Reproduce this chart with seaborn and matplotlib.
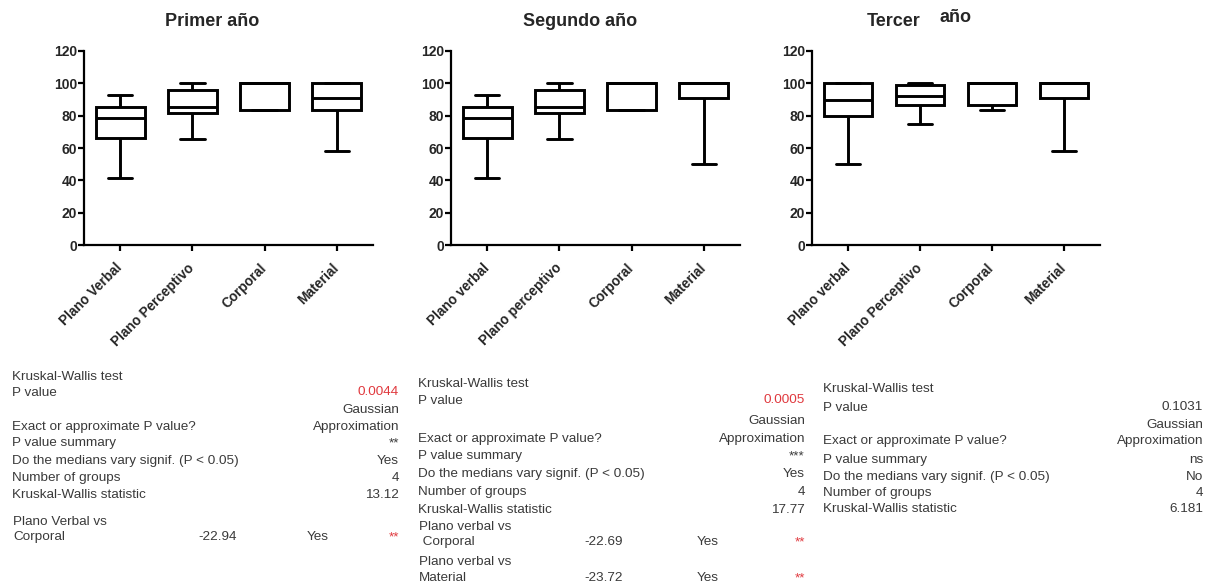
import matplotlib
matplotlib.use("Agg")
import matplotlib.pyplot as plt
import numpy as np
import pandas as pd
import seaborn as sns

# ---- box summaries (min, Q1, median, Q3, max) per group ----
labels_1 = ["Plano Verbal", "Plano Perceptivo", "Corporal", "Material"]
p1_min = [41.7, 65.5, 83.3, 58.3]
p1_q1 = [66.0, 81.7, 83.3, 83.3]
p1_med = [78.6, 85.4, 100.0, 91.2]
p1_q3 = [85.4, 96.0, 100.0, 100.0]
p1_max = [92.6, 100.0, 100.0, 100.0]

labels_2 = ["Plano verbal", "Plano perceptivo", "Corporal", "Material"]
p2_min = [41.7, 65.5, 83.3, 50.0]
p2_q1 = [66.0, 81.7, 83.3, 91.2]
p2_med = [78.6, 85.4, 100.0, 100.0]
p2_q3 = [85.4, 96.0, 100.0, 100.0]
p2_max = [92.6, 100.0, 100.0, 100.0]

labels_3 = ["Plano verbal", "Plano Perceptivo", "Corporal", "Material"]
p3_min = [50.0, 74.7, 83.4, 58.3]
p3_q1 = [80.0, 86.9, 86.9, 91.0]
p3_med = [89.5, 92.0, 100.0, 100.0]
p3_q3 = [100.0, 98.8, 100.0, 100.0]
p3_max = [100.0, 100.0, 100.0, 100.0]

titles = ["Primer año", "Segundo año", "Tercer año"]
y_ticks = [0, 20, 40, 60, 80, 100, 120]

# ---- Kruskal-Wallis summaries ----
stat_rows = ["Kruskal-Wallis test", "P value", "Exact or approximate P value?",
             "P value summary", "Do the medians vary signif. (P < 0.05)",
             "Number of groups", "Kruskal-Wallis statistic"]
p_values = ["0.0044", "0.0005", "0.1031"]
p_method = ["Gaussian", "Approximation"]
p_summary = ["**", "***", "ns"]
medians_vary = ["Yes", "Yes", "No"]
n_groups = ["4", "4", "4"]
kw_statistic = ["13.12", "17.77", "6.181"]

# Dunn's comparisons: (first line, second line, mean rank diff, significant, summary)
comparisons_1 = [("Plano Verbal vs", "Corporal", "-22.94", "Yes", "**")]
comparisons_2 = [("Plano verbal vs", " Corporal", "-22.69", "Yes", "**"),
                 ("Plano verbal vs", "Material", "-23.72", "Yes", "**")]
comparisons_3 = []


def long_frame(labels, mins, q1s, meds, q3s, maxs):
    rows = []
    for lab, a, b, c, d, e in zip(labels, mins, q1s, meds, q3s, maxs):
        for v in (a, b, c, d, e):
            rows.append({"grupo": lab, "valor": v})
    return pd.DataFrame(rows)


frames = [
    long_frame(labels_1, p1_min, p1_q1, p1_med, p1_q3, p1_max),
    long_frame(labels_2, p2_min, p2_q1, p2_med, p2_q3, p2_max),
    long_frame(labels_3, p3_min, p3_q1, p3_med, p3_q3, p3_max),
]
label_sets = [labels_1, labels_2, labels_3]

sns.set_style("ticks")
plt.rcParams["font.family"] = ["Liberation Sans", "DejaVu Sans"]

W, H = 1214, 588
fig = plt.figure(figsize=(W / 100, H / 100), dpi=100)


def fx(x):
    return x / W


def fy(y):
    return 1 - y / H


axes_px = [(84, 373), (451, 740), (812, 1100)]
ax_top, ax_bottom = 51, 245

for i, (df, labs) in enumerate(zip(frames, label_sets)):
    l, r = axes_px[i]
    ax = fig.add_axes([fx(l), fy(ax_bottom), fx(r - l), (ax_bottom - ax_top) / H])
    sns.boxplot(data=df, x="grupo", y="valor", order=labs, whis=(0, 100),
                color="white", linecolor="black", linewidth=2.1, width=0.68,
                ax=ax)
    ax.set_xlim(-0.5, 3.5)
    ax.set_ylim(0, 120)
    ax.set_yticks(y_ticks)
    ax.set_xlabel("")
    ax.set_ylabel("")
    for side in ("top", "right"):
        ax.spines[side].set_visible(False)
    for side in ("left", "bottom"):
        ax.spines[side].set_linewidth(1.6)
        ax.spines[side].set_color("black")
    ax.tick_params(axis="both", direction="out", width=1.6, length=4,
                   color="black")
    ax.tick_params(axis="y", labelsize=10, pad=1)
    for t in ax.get_yticklabels():
        t.set_fontweight("bold")
    ax.set_xticks(range(len(labs)))
    ax.set_xticklabels(labs, rotation=45, ha="right", va="center",
                       rotation_mode="anchor", fontsize=9.8, fontweight="bold")
    ax.tick_params(axis="x", pad=11)

# titles
fig.text(fx(212), fy(22), titles[0], ha="center", va="center",
         fontsize=13, fontweight="bold")
fig.text(fx(580), fy(21), titles[1], ha="center", va="center",
         fontsize=13, fontweight="bold")
t3a, t3b = titles[2].split(" ")
fig.text(fx(894), fy(22), t3a, ha="center", va="center",
         fontsize=13, fontweight="bold")
fig.text(fx(956), fy(17), t3b, ha="center", va="center",
         fontsize=13, fontweight="bold")

# ---- statistics tables ----
txt_color = "#3a3a3a"
red = "#e0393e"
fs = 9.7

layouts = [
    dict(left=12, right=399, rows=[377, 393, 410, 427, 443, 461, 478, 495],
         diff=237, yes=307, comps=[(522, 537)]),
    dict(left=418, right=805, rows=[384, 401, 421, 439, 456, 474, 492, 510],
         diff=623, yes=697, comps=[(527, 542), (562, 578)]),
    dict(left=823, right=1203, rows=[389, 408, 425, 441, 460, 477, 493, 509],
         diff=None, yes=None, comps=[]),
]
all_comparisons = [comparisons_1, comparisons_2, comparisons_3]

for i, lay in enumerate(layouts):
    L, R = lay["left"], lay["right"]
    y_test, y_p, y_gauss, y_exact, y_sum, y_med, y_n, y_kw = lay["rows"]

    def put(x, y, s, ha="left", color=txt_color):
        fig.text(fx(x), fy(y), s, ha=ha, va="center", fontsize=fs, color=color)

    put(L, y_test, stat_rows[0])
    put(L, y_p, stat_rows[1])
    put(R, y_p - 1, p_values[i], ha="right", color=red if i < 2 else txt_color)
    put(R, y_gauss, p_method[0], ha="right")
    put(L, y_exact, stat_rows[2])
    put(R, y_exact, p_method[1], ha="right")
    put(L, y_sum, stat_rows[3])
    put(R, y_sum, p_summary[i], ha="right")
    put(L, y_med, stat_rows[4])
    put(R, y_med, medians_vary[i], ha="right")
    put(L, y_n, stat_rows[5])
    put(R, y_n, n_groups[i], ha="right")
    put(L, y_kw, stat_rows[6])
    put(R, y_kw, kw_statistic[i], ha="right")

    for (ya, yb), (c1, c2, diff, yes, stars) in zip(lay["comps"], all_comparisons[i]):
        put(L + 1, ya, c1)
        put(L + 1, yb, c2)
        put(lay["diff"], yb, diff, ha="right")
        put(lay["yes"], yb, yes)
        put(R, yb, stars, ha="right", color=red)

fig.savefig("out.png", dpi=100, facecolor="white")
